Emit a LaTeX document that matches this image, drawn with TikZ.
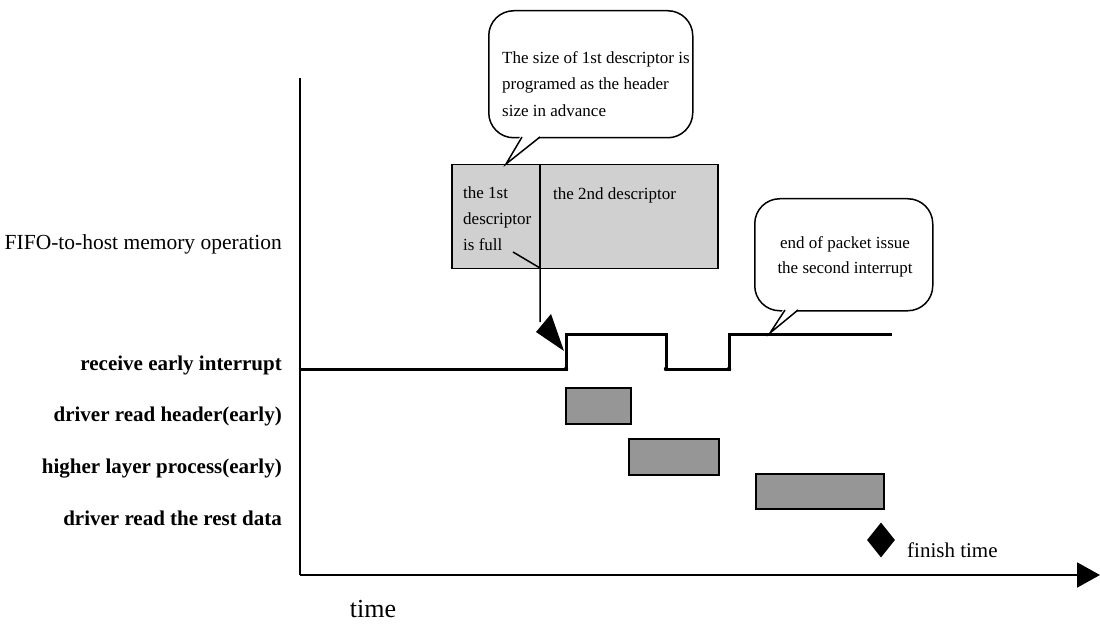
\documentclass[tikz,border=0pt]{standalone}
\usepackage{fontspec}
\setmainfont{Liberation Serif}
\usetikzlibrary{shapes.geometric,arrows.meta}
\definecolor{lgray}{RGB}{208,208,208}
\definecolor{dgray}{RGB}{150,150,150}
\begin{document}
\begin{tikzpicture}[x=1pt,y=-1pt,
  axis/.style={line width=2pt},
  lbl/.style={anchor=base east, inner sep=0pt, font=\fontsize{21}{25}\selectfont\bfseries},
  plainlbl/.style={anchor=base east, inner sep=0pt, font=\fontsize{21.5}{25}\selectfont},
  bubble/.style={draw, line width=1.5pt, fill=white, rounded corners=25pt, inner sep=0pt, anchor=north west},
  btext/.style={inner sep=0pt, font=\fontsize{17}{26}\selectfont},
  task/.style={draw, line width=2pt, fill=dgray, inner sep=0pt, anchor=north west},
  signal/.style={line width=3pt},
  ptr/.style={line width=1.5pt, line join=miter},
  blin/.style={line width=1.5pt, line join=miter}
]
\useasboundingbox (0,0) rectangle (1100,628);

% axes
\coordinate (ytop) at (300,78);
\coordinate (origin) at (300,575);
\coordinate (xend) at (1100,575);
\draw[axis] (ytop) -- (origin);
\draw[axis, -{Triangle[length=23pt,width=25pt]}] (origin) -- (xend);
\node[inner sep=0pt, font=\fontsize{26}{30}\selectfont, anchor=base] (time) at (373,617) {time};

% row labels
\node[plainlbl] (fifolbl) at (282,250) {FIFO-to-host memory operation};
\node[lbl] (l1) at (282,370) {receive early interrupt};
\node[lbl] (l2) at (282,421) {driver read header(early)};
\node[lbl] (l3) at (282,473) {higher layer process(early)};
\node[lbl] (l4) at (282,525) {driver read the rest data};

% FIFO descriptors box
\node[draw, line width=1.5pt, fill=lgray, minimum width=266pt, minimum height=104pt, inner sep=0pt, anchor=north west] (fifo) at (451,164) {};
\coordinate (divtop) at (540,164);
\coordinate (divbot) at (540,268);
\draw[line width=1.5pt] (divtop) -- (divbot);
\node[btext, anchor=north west, align=left, font=\fontsize{17}{26}\selectfont] (d1) at (463,187) {the 1st\\descriptor\\is full};
\node[btext, anchor=base west] (d2) at (553,200) {the 2nd descriptor};

% interrupt signal
\coordinate (s0) at (300,369);
\coordinate (r1) at (566,369);
\coordinate (h1) at (566,334);
\coordinate (h2) at (666,334);
\coordinate (f1) at (666,369);
\coordinate (r2) at (729,369);
\coordinate (h3) at (729,334);
\coordinate (s1) at (892,334);
\draw[signal] (s0) -- (r1) -- (h1) -- (h2) -- (f1) -- (r2) -- (h3) -- (s1);
\foreach \p in {r1,f1,r2} \fill (\p) circle (2.2pt);

% arrow from "is full" to the interrupt rise
\coordinate (fullend) at (513,252);
\coordinate (shaftend) at (540,322);
\coordinate (riseTip) at (564,351);
\draw[ptr] (fullend) -- (divbot) -- (shaftend);
\fill (536,332) -- (551,314) -- (riseTip) -- cycle;

% callout 1
\node[bubble, minimum width=204pt, minimum height=127pt] (c1) at (488,10) {};
\fill[white] (521,135) -- (506,164) -- (541,135) -- cycle;
\draw[blin] (522,137) -- (506,164) -- (540,137);
\node[btext, anchor=north west, align=left, font=\fontsize{17}{26.5}\selectfont] (c1t) at (502,51)
  {The size of 1st descriptor is\\programed as the header\\size in advance};

% callout 2
\node[bubble, minimum width=178pt, minimum height=112pt] (c2) at (754,198) {};
\fill[white] (784,308) -- (770,333) -- (799,308) -- cycle;
\draw[blin] (785,310) -- (770,333) -- (798,310);
\node[btext, anchor=north, align=center, font=\fontsize{17}{25}\selectfont] (c2t) at (845,236)
  {end of packet issue\\the second interrupt};

% task boxes
\node[task, minimum width=65pt, minimum height=36pt] (b1) at (565,387) {};
\node[task, minimum width=90pt, minimum height=36pt] (b2) at (628,438) {};
\node[task, minimum width=128pt, minimum height=35pt] (b3) at (755,473) {};

% finish marker
\node[diamond, fill=black, inner sep=0pt, minimum width=28pt, minimum height=35pt] (fin) at (881,540) {};
\node[inner sep=0pt, anchor=base west, font=\fontsize{21}{25}\selectfont] (fint) at (907,557) {finish time};
\end{tikzpicture}
\end{document}
